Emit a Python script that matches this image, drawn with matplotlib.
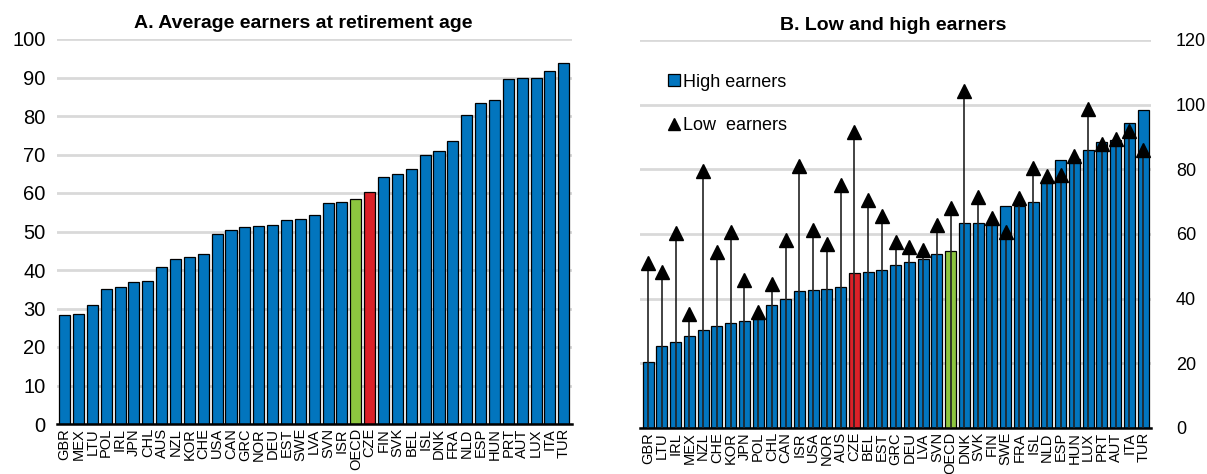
import numpy as np
import matplotlib
matplotlib.use("Agg")
import matplotlib.pyplot as plt
from matplotlib.lines import Line2D

plt.rcParams['font.family'] = ['Liberation Sans', 'DejaVu Sans']

# panel A: average earners at retirement age
countries_a = ["GBR", "MEX", "LTU", "POL", "IRL", "JPN", "CHL", "AUS", "NZL", "KOR",
               "CHE", "USA", "CAN", "GRC", "NOR", "DEU", "EST", "SWE", "LVA", "SVN",
               "ISR", "OECD", "CZE", "FIN", "SVK", "BEL", "ISL", "DNK", "FRA", "NLD",
               "ESP", "HUN", "PRT", "AUT", "LUX", "ITA", "TUR"]
average = [28.3, 28.6, 31.0, 35.1, 35.7, 36.8, 37.2, 40.9, 42.8, 43.3,
           44.2, 49.4, 50.5, 51.1, 51.5, 51.8, 53.0, 53.3, 54.3, 57.3,
           57.7, 58.4, 60.3, 64.2, 65.0, 66.2, 69.8, 70.8, 73.6, 80.2,
           83.3, 84.2, 89.5, 89.8, 90.0, 91.7, 93.7]

# panel B: low and high earners
countries_b = ["GBR", "LTU", "IRL", "MEX", "NZL", "CHE", "KOR", "JPN", "POL", "CHL",
               "CAN", "ISR", "USA", "NOR", "AUS", "CZE", "BEL", "EST", "GRC", "DEU",
               "LVA", "SVN", "OECD", "DNK", "SVK", "FIN", "SWE", "FRA", "ISL", "NLD",
               "ESP", "HUN", "LUX", "PRT", "AUT", "ITA", "TUR"]
high = [20.3, 25.4, 26.7, 28.5, 30.3, 31.7, 32.6, 33.2, 33.8, 38.0,
        39.8, 42.5, 42.7, 42.9, 43.7, 47.8, 48.2, 48.9, 50.3, 51.4,
        52.2, 53.7, 54.6, 63.3, 63.3, 63.3, 68.8, 68.8, 69.8, 75.8,
        82.8, 83.3, 85.9, 88.5, 89.2, 94.4, 98.5]
low = [51.0, 48.3, 60.4, 35.4, 79.6, 54.3, 60.7, 45.8, 35.8, 44.4,
       58.2, 81.1, 61.1, 56.8, 75.3, 91.4, 70.6, 65.5, 57.5, 56.0,
       55.1, 62.7, 68.1, 104.3, 71.5, 64.8, 60.5, 71.2, 80.3, 77.9,
       78.2, 84.1, 98.6, 87.7, 89.5, 91.9, 85.9]

BLUE = '#0275BE'
GREEN = '#8DC63F'
RED = '#DA2128'
GRID = '#D9D9D9'


def bar_colors(names):
    cols = []
    for n in names:
        if n == "OECD":
            cols.append(GREEN)
        elif n == "CZE":
            cols.append(RED)
        else:
            cols.append(BLUE)
    return cols


def style_axis(ax, ysize):
    for s in ['top', 'left', 'right']:
        ax.spines[s].set_visible(False)
    ax.spines['bottom'].set_linewidth(1.8)
    ax.spines['bottom'].set_color('black')
    ax.yaxis.grid(True, color=GRID, lw=2)
    ax.set_axisbelow(True)
    ax.tick_params(axis='both', length=0)
    ax.tick_params(axis='y', labelsize=ysize)
    ax.tick_params(axis='x', labelsize=10.5, pad=3)


W, H = 1207, 474
fig = plt.figure(figsize=(W / 100, H / 100), dpi=100)

# ---- panel A
ax1 = fig.add_axes([56.7 / W, 1 - 424 / H, (571.7 - 56.7) / W, (424 - 39) / H])
xa = np.arange(len(countries_a))
ax1.bar(xa, average, width=0.8, color=bar_colors(countries_a),
        edgecolor='black', linewidth=0.9, zorder=2)
style_axis(ax1, 14.5)
ax1.set_ylim(0, 100)
ax1.set_yticks(np.arange(0, 101, 10))
ax1.set_xlim(-0.57, len(countries_a) - 0.43)
ax1.set_xticks(xa)
ax1.set_xticklabels(countries_a, rotation=90)
ax1.tick_params(axis='y', pad=8)
fig.text(303 / W, 1 - 23 / H, "A. Average earners at retirement age",
         ha='center', va='center', fontsize=14, fontweight='bold')

# ---- panel B
ax2 = fig.add_axes([640 / W, 1 - 428 / H, (1151 - 640) / W, (428 - 40) / H])
xb = np.arange(len(countries_b))
ax2.bar(xb, high, width=0.8, color=bar_colors(countries_b),
        edgecolor='black', linewidth=0.9, zorder=2)
ax2.vlines(xb, 0, low, color='#222222', lw=1.2, zorder=3)
ax2.plot(xb, low, ls='none', marker='^', ms=10, color='black', zorder=4)
style_axis(ax2, 13)
ax2.yaxis.tick_right()
ax2.tick_params(axis='y', pad=18)
ax2.set_ylim(0, 120)
ax2.set_yticks(np.arange(0, 121, 20))
ax2.set_xlim(-0.6, len(countries_b) - 0.43)
ax2.set_xticks(xb)
ax2.set_xticklabels(countries_b, rotation=90)
fig.text(893 / W, 1 - 25 / H, "B. Low and high earners",
         ha='center', va='center', fontsize=14, fontweight='bold')

handles = [Line2D([], [], ls='none', marker='s', ms=9, markerfacecolor=BLUE,
                  markeredgecolor='black', markeredgewidth=0.9),
           Line2D([], [], ls='none', marker='^', ms=9, color='black')]
ax2.legend(handles, ["High earners", "Low  earners"], loc='upper left',
           bbox_to_anchor=(0.055, 0.913), frameon=False, fontsize=13,
           handlelength=0.6, handletextpad=0.25, labelspacing=1.45,
           borderaxespad=0, borderpad=0)

fig.savefig("out.png", dpi=100)
